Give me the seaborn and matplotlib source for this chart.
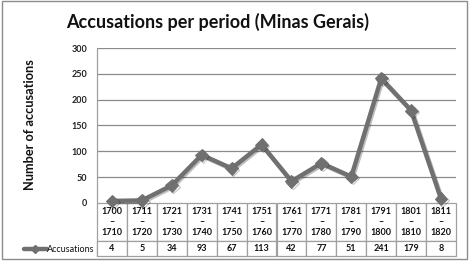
import matplotlib
matplotlib.use("Agg")
import matplotlib.pyplot as plt
import matplotlib.patheffects as pe
from matplotlib.patches import Rectangle
import seaborn as sns
import pandas as pd

periods_start = ["1700", "1711", "1721", "1731", "1741", "1751", "1761", "1771", "1781", "1791", "1801", "1811"]
periods_end = ["1710", "1720", "1730", "1740", "1750", "1760", "1770", "1780", "1790", "1800", "1810", "1820"]
accusations = [4, 5, 34, 93, 67, 113, 42, 77, 51, 241, 179, 8]
series_name = "Accusations"
y_ticks = [0, 50, 100, 150, 200, 250, 300]

sns.set_style("white")
plt.rcParams["font.family"] = ["Lato", "DejaVu Sans"]

line_color = "#707070"
grid_color = "#8a8a8a"
edge_color = "#a0a0a0"

df = pd.DataFrame({"pos": range(len(accusations)), "val": accusations})

fig = plt.figure(figsize=(4.71, 2.65), dpi=100)
ax = fig.add_axes([97 / 471, 1 - 203 / 265, 359 / 471, 155 / 265])

sns.lineplot(data=df, x="pos", y="val", ax=ax, color=line_color, linewidth=3.2,
             marker="D", markersize=6.5, markeredgecolor=line_color,
             path_effects=[pe.SimpleLineShadow(offset=(1, -1), alpha=0.25), pe.Normal()],
             clip_on=False, zorder=5)

ax.set_xlim(-0.5, len(accusations) - 0.5)
ax.set_ylim(0, 300)
ax.set_yticks(y_ticks)
ax.set_yticklabels([str(t) for t in y_ticks], fontsize=6.5, fontweight="bold", color="#222222")
ax.tick_params(axis="y", length=0, pad=7)
ax.set_xticks([])
ax.set_xlabel("")
ax.set_ylabel("")
for t in y_ticks[1:]:
    ax.axhline(t, color=grid_color, lw=0.9, zorder=1)
for s in ["top", "right", "bottom"]:
    ax.spines[s].set_visible(False)
ax.spines["left"].set_color(edge_color)
ax.spines["left"].set_linewidth(0.9)

# data table under the axis
col_labels = [f"{a}\n–\n{b}" for a, b in zip(periods_start, periods_end)]
tbl = ax.table(cellText=[[str(v) for v in accusations]], rowLabels=[""],
               colLabels=col_labels, cellLoc="center",
               bbox=[0, -53 / 155, 1, 53 / 155])
tbl.auto_set_font_size(False)
for (r, c), cell in tbl.get_celld().items():
    cell.set_edgecolor(edge_color)
    cell.set_linewidth(0.9)
    cell.set_height(38 if r == 0 else 15)
    cell.set_width(75 if c == -1 else 359 / len(accusations))
    cell.get_text().set_fontsize(6.5)
    cell.get_text().set_fontweight("bold")
    cell.get_text().set_color("#111111")
    cell.PAD = 0.02

# legend key in row label cell
key_y = -46 / 155
ax.plot([-0.203, -0.139], [key_y, key_y], transform=ax.transAxes, color=line_color,
        lw=3.2, clip_on=False)
ax.plot([-0.173], [key_y], transform=ax.transAxes, color=line_color, marker="D",
        markersize=4.5, clip_on=False)
ax.text(-0.139, key_y, series_name, transform=ax.transAxes, fontsize=6.5,
        va="center", ha="left", color="#111111")

fig.text(218 / 471, 1 - 22 / 265, "Accusations per period (Minas Gerais)", ha="center",
         va="center", fontsize=13, fontweight="bold", color="#111111")
fig.text(30 / 471, 1 - 125 / 265, "Number of accusations", rotation=90, ha="center",
         va="center", fontsize=9.2, fontweight="bold", color="#111111")

fig.patches.append(Rectangle((2 / 471, 1 - 259 / 265), 465 / 471, 258 / 265,
                             transform=fig.transFigure, fill=False, edgecolor="#8c8c8c", lw=1))

fig.savefig("out.png", dpi=100)
